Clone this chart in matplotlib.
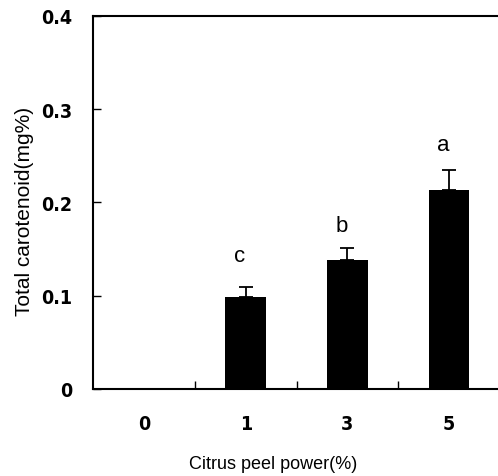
import matplotlib.pyplot as plt
from matplotlib.font_manager import FontProperties

categories = ["0", "1", "3", "5"]
values = [0.0, 0.099, 0.138, 0.213]
errors = [0.0, 0.010, 0.013, 0.022]
letters = ["", "c", "b", "a"]
letter_y = [0.0, 0.143, 0.175, 0.262]

plt.rcParams['font.family'] = ['Liberation Sans', 'DejaVu Sans']
tick_font = FontProperties(family='DejaVu Sans', weight='bold', stretch='condensed', size=14)

fig = plt.figure(figsize=(4.98, 4.77), dpi=100)
ax = fig.add_axes([0.187, 0.1824, 0.817, 0.782])

x = list(range(len(categories)))
ax.bar(x[1:], values[1:], width=0.4, color='black')
ax.errorbar(x[1:], values[1:], yerr=[[0] * 3, errors[1:]], fmt='none',
            ecolor='black', elinewidth=1.3, capsize=5, capthick=1.3)

for i in x[1:]:
    ax.text(i - 0.06, letter_y[i], letters[i], ha='center', va='center', fontsize=16)

ax.set_xlim(-0.5, 3.5)
ax.set_ylim(0, 0.4)
ax.set_yticks([0, 0.1, 0.2, 0.3, 0.4])
ax.set_yticklabels(["0", "0.1", "0.2", "0.3", "0.4"])
ax.set_xticks(x)
ax.set_xticklabels(categories)
for lab in ax.get_xticklabels() + ax.get_yticklabels():
    lab.set_fontproperties(tick_font)
ax.set_xticks([0.5, 1.5, 2.5], minor=True)
ax.tick_params(axis='x', which='major', length=0, pad=18)
ax.tick_params(axis='x', which='minor', direction='in', length=6, width=1)
ax.tick_params(axis='y', direction='in', length=6, width=1, pad=15)

for s in ['left', 'bottom', 'top']:
    ax.spines[s].set_linewidth(1.5)
ax.spines['right'].set_visible(False)

ax.set_ylabel("Total carotenoid(mg%)", fontsize=15)
ax.yaxis.set_label_coords(-0.145, 0.48)
ax.set_xlabel("Citrus peel power(%)", fontsize=13)
ax.xaxis.set_label_coords(0.442, -0.178)

plt.savefig('out.png')
